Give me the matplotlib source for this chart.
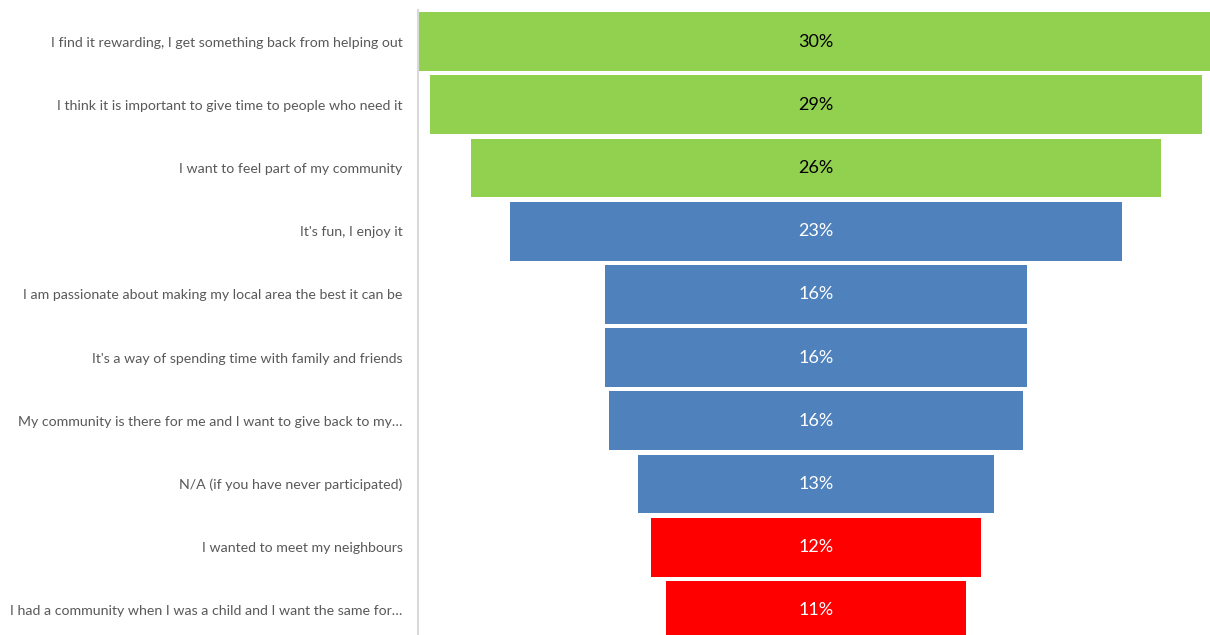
import matplotlib
matplotlib.use("Agg")
import matplotlib.pyplot as plt

plt.rcParams["font.family"] = ["Lato", "DejaVu Sans"]

# Reasons for taking part, top to bottom
reasons = [
    "I find it rewarding, I get something back from helping out",
    "I think it is important to give time to people who need it",
    "I want to feel part of my community",
    "It's fun, I enjoy it",
    "I am passionate about making my local area the best it can be",
    "It's a way of spending time with family and friends",
    "My community is there for me and I want to give back to my…",
    "N/A (if you have never participated)",
    "I wanted to meet my neighbours",
    "I had a community when I was a child and I want the same for…",
]
share = [30.0, 29.1, 26.0, 23.1, 15.9, 15.9, 15.6, 13.4, 12.4, 11.3]
groups = ["top", "top", "top", "mid", "mid", "mid", "mid", "mid", "low", "low"]

colors = {"top": "#92D050", "mid": "#4F81BD", "low": "#FF0000"}
text_colors = {"top": "black", "mid": "white", "low": "white"}

fig = plt.figure(figsize=(12.1, 6.35), dpi=100)
# axes runs a little past the right edge, funnel centred at x~816
ax = fig.add_axes([418 / 1210, -7 / 635, 796 / 1210, 632 / 635])

ypos = list(range(len(reasons)))
lefts = [-v / 2 for v in share]
ax.barh(ypos, share, left=lefts, height=0.93,
        color=[colors[g] for g in groups], linewidth=0)

for y, v, g in zip(ypos, share, groups):
    ax.text(0, y, f"{round(v)}%", ha="center", va="center",
            fontsize=13, color=text_colors[g])

ax.set_xlim(-15, 15)
ax.set_ylim(len(reasons) - 0.5, -0.5)
ax.set_yticks(ypos)
ax.set_yticklabels(reasons, fontsize=10.2, color="#595959")
ax.tick_params(axis="y", length=0, pad=11)
ax.set_xticks([])

for s in ["top", "right", "bottom"]:
    ax.spines[s].set_visible(False)
ax.spines["left"].set_color("#D9D9D9")
ax.spines["left"].set_linewidth(1.5)

fig.savefig("out.png", dpi=100)
